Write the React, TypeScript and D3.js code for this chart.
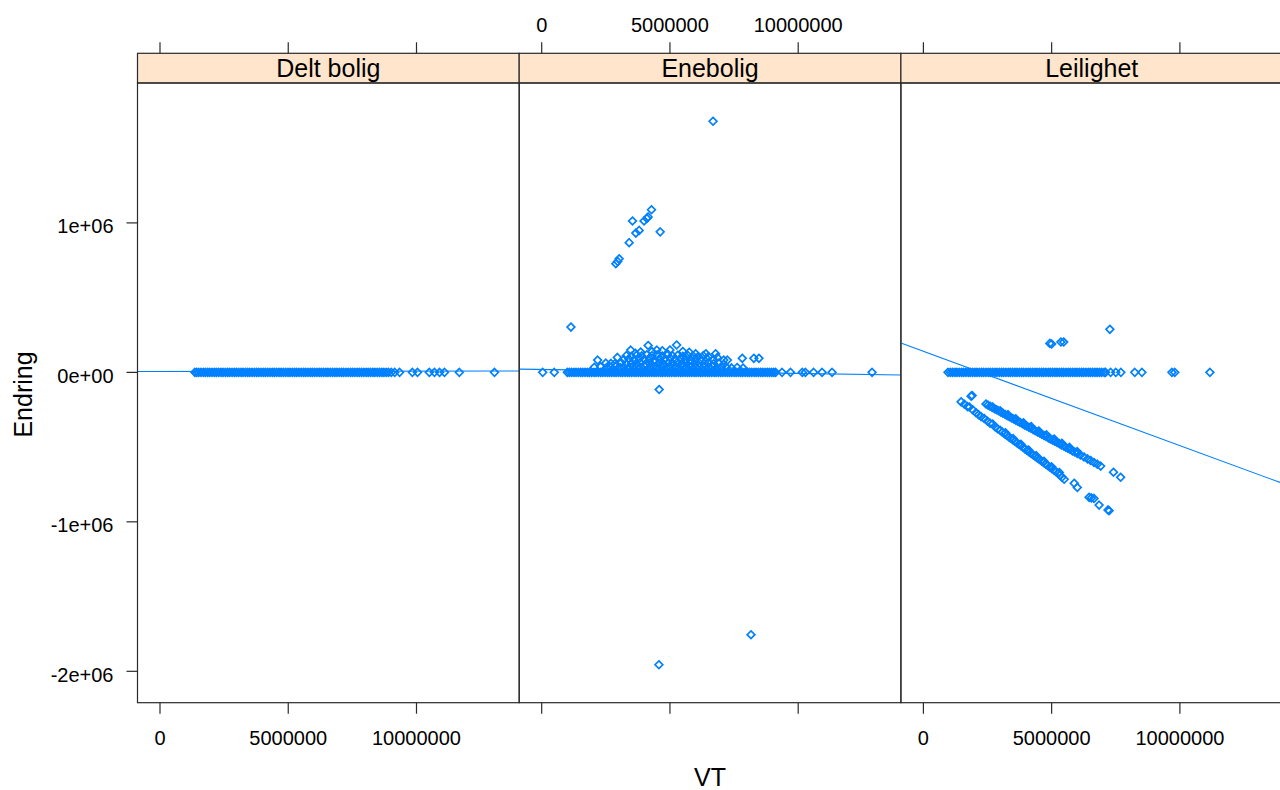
import React from "react";
import * as d3 from "d3";

// ---------- data (VT in millions, Endring in thousands) ----------
const VT_UNIT = 1e6;
const END_UNIT = 1e3;

const panelNames = ["Delt bolig", "Enebolig", "Leilighet"];

const xTicks = [0, 5000000, 10000000];
const xTickLabels = ["0", "5000000", "10000000"];
const yTicks = [1000000, 0, -1000000, -2000000];
const yTickLabels = ["1e+06", "0e+00", "-1e+06", "-2e+06"];

const deltBolig: [number, number][] = [
  [1.36, 0], [1.43, 0], [1.51, 0], [1.6, 0], [1.69, 0], [1.77, 0], [1.86, 0], [1.94, 0], [2.03, 0], [2.12, 0],
  [2.2, 0], [2.29, 0], [2.38, 0], [2.46, 0], [2.55, 0], [2.64, 0], [2.72, 0], [2.81, 0], [2.9, 0], [2.98, 0],
  [3.07, 0], [3.16, 0], [3.24, 0], [3.33, 0], [3.42, 0], [3.5, 0], [3.59, 0], [3.68, 0], [3.77, 0], [3.85, 0],
  [3.94, 0], [4.03, 0], [4.11, 0], [4.2, 0], [4.29, 0], [4.38, 0], [4.46, 0], [4.55, 0], [4.64, 0], [4.72, 0],
  [4.81, 0], [4.9, 0], [4.99, 0], [5.07, 0], [5.16, 0], [5.25, 0], [5.33, 0], [5.42, 0], [5.51, 0], [5.6, 0],
  [5.68, 0], [5.77, 0], [5.86, 0], [5.94, 0], [6.03, 0], [6.12, 0], [6.21, 0], [6.29, 0], [6.38, 0], [6.47, 0],
  [6.55, 0], [6.64, 0], [6.73, 0], [6.82, 0], [6.9, 0], [6.99, 0], [7.08, 0], [7.16, 0], [7.25, 0], [7.34, 0],
  [7.43, 0], [7.51, 0], [7.6, 0], [7.69, 0], [7.77, 0], [7.86, 0], [7.95, 0], [8.04, 0], [8.12, 0], [8.21, 0],
  [8.3, 0], [8.38, 0], [8.47, 0], [8.56, 0], [8.65, 0], [8.73, 0], [8.82, 0], [8.91, 0], [9.02, 0], [9.15, 0],
  [9.34, 0], [9.84, 0], [10.04, 0], [10.5, 0], [10.7, 0], [10.9, 0], [11.09, 0], [11.67, 0], [13.04, 0],
];

const enebolig: [number, number][] = [
  // around zero
  [0.04, 0], [0.49, 0], [1.0, 0], [1.08, 0], [1.17, 0], [1.26, 0], [1.34, 0], [1.43, 0], [1.52, 0], [1.6, 0],
  [1.69, 0], [1.78, 0], [1.86, 0], [1.95, 0], [2.04, 0], [2.12, 0], [2.21, 0], [2.3, 0], [2.38, 0], [2.47, 0],
  [2.56, 0], [2.64, 0], [2.73, 0], [2.82, 0], [2.9, 0], [2.99, 0], [3.08, 0], [3.16, 0], [3.25, 0], [3.34, 0],
  [3.42, 0], [3.51, 0], [3.6, 0], [3.68, 0], [3.77, 0], [3.86, 0], [3.94, 0], [4.03, 0], [4.12, 0], [4.2, 0],
  [4.29, 0], [4.38, 0], [4.46, 0], [4.55, 0], [4.64, 0], [4.72, 0], [4.81, 0], [4.9, 0], [4.98, 0], [5.07, 0],
  [5.16, 0], [5.24, 0], [5.33, 0], [5.42, 0], [5.5, 0], [5.59, 0], [5.68, 0], [5.76, 0], [5.85, 0], [5.94, 0],
  [6.02, 0], [6.11, 0], [6.2, 0], [6.28, 0], [6.37, 0], [6.46, 0], [6.54, 0], [6.63, 0], [6.72, 0], [6.8, 0],
  [6.89, 0], [6.98, 0], [7.06, 0], [7.15, 0], [7.24, 0], [7.32, 0], [7.41, 0], [7.5, 0], [7.58, 0], [7.67, 0],
  [7.76, 0], [7.84, 0], [7.93, 0], [8.02, 0], [8.1, 0], [8.19, 0], [8.28, 0], [8.36, 0], [8.45, 0], [8.54, 0],
  [8.62, 0], [8.71, 0], [8.8, 0], [8.88, 0], [8.97, 0], [9.05, 0], [9.12, 0], [9.37, 0], [9.7, 0], [10.16, 0],
  [10.28, 0], [10.6, 0], [10.93, 0], [11.32, 0], [12.88, 0],
  // small positive changes
  [2.05, 34], [2.3, 38], [2.52, 31], [2.7, 36], [2.88, 40], [3.05, 33], [3.2, 37], [3.38, 31], [3.55, 39], [3.7, 35],
  [3.86, 32], [4.02, 38], [4.2, 34], [4.35, 40], [4.5, 33], [4.68, 36], [4.85, 31], [5.0, 39], [5.18, 35], [5.35, 32],
  [5.5, 38], [5.66, 34], [5.83, 37], [6.0, 31], [6.15, 39], [6.32, 35], [6.5, 33], [6.66, 38], [6.83, 32], [7.0, 36],
  [7.2, 34], [7.4, 30], [7.62, 33], [7.85, 29],
  [2.5, 62], [2.7, 60], [2.85, 58], [3.1, 64], [3.3, 57], [3.5, 63], [3.68, 59], [3.85, 65], [4.05, 58], [4.22, 62],
  [4.4, 66], [4.58, 60], [4.75, 57], [4.93, 64], [5.1, 61], [5.28, 66], [5.45, 58], [5.62, 63], [5.8, 60], [5.98, 56],
  [6.15, 62], [6.33, 59], [6.5, 64], [6.7, 57], [6.9, 61], [7.1, 55],
  [2.18, 82], [2.95, 100], [3.2, 86], [3.4, 90], [3.6, 84], [3.8, 92], [4.0, 87], [4.2, 95], [4.4, 85], [4.6, 91],
  [4.8, 88], [5.0, 96], [5.2, 86], [5.4, 93], [5.6, 89], [5.8, 84], [6.0, 92], [6.2, 87], [6.45, 90], [6.7, 85],
  [7.1, 82], [7.24, 82], [7.82, 94], [8.27, 94], [8.47, 94],
  [3.3, 112], [3.5, 108], [3.7, 115], [3.9, 110], [4.1, 118], [4.3, 112], [4.5, 116], [4.7, 109], [4.9, 117], [5.1, 111],
  [5.3, 114], [5.5, 108], [5.7, 113], [5.9, 110], [6.1, 106], [6.3, 112], [6.5, 105], [6.85, 100],
  [3.47, 149], [3.65, 128], [3.86, 136], [4.15, 180], [4.3, 140], [4.49, 149], [4.7, 145], [4.9, 125], [5.0, 150],
  [5.26, 183], [5.5, 140], [5.75, 135], [6.0, 125], [6.4, 125], [6.78, 125],
  // outliers
  [1.14, 303], [4.58, -115],
  [2.89, 727], [2.96, 742], [3.02, 760], [3.41, 868], [3.54, 1013], [3.67, 932], [3.8, 950], [3.99, 1013],
  [4.1, 1030], [4.15, 1040], [4.28, 1088], [4.62, 940], [6.68, 1680], [4.57, -1956], [8.16, -1755],
];

const leilighet: [number, number][] = [
  // around zero
  [0.96, 0], [1.05, 0], [1.14, 0], [1.23, 0], [1.31, 0], [1.4, 0], [1.49, 0], [1.57, 0], [1.66, 0], [1.75, 0],
  [1.83, 0], [1.92, 0], [2.01, 0], [2.09, 0], [2.18, 0], [2.27, 0], [2.35, 0], [2.44, 0], [2.53, 0], [2.61, 0],
  [2.7, 0], [2.79, 0], [2.87, 0], [2.96, 0], [3.05, 0], [3.13, 0], [3.22, 0], [3.31, 0], [3.39, 0], [3.48, 0],
  [3.57, 0], [3.65, 0], [3.74, 0], [3.83, 0], [3.91, 0], [4.0, 0], [4.09, 0], [4.17, 0], [4.26, 0], [4.35, 0],
  [4.43, 0], [4.52, 0], [4.61, 0], [4.69, 0], [4.78, 0], [4.87, 0], [4.95, 0], [5.04, 0], [5.13, 0], [5.21, 0],
  [5.3, 0], [5.39, 0], [5.47, 0], [5.56, 0], [5.65, 0], [5.73, 0], [5.82, 0], [5.91, 0], [5.99, 0], [6.08, 0],
  [6.17, 0], [6.25, 0], [6.34, 0], [6.43, 0], [6.51, 0], [6.6, 0], [6.69, 0], [6.77, 0], [6.86, 0], [6.95, 0],
  [7.05, 0], [7.1, 0], [7.3, 0], [7.5, 0], [7.7, 0], [8.24, 0], [8.52, 0], [9.69, 0], [9.8, 0], [11.17, 0],
  // positive
  [4.93, 194], [5.0, 190], [5.36, 203], [5.47, 203], [7.27, 288],
  // upper negative band
  [2.44, -212], [2.52, -219], [2.6, -227], [2.68, -234], [2.77, -243], [2.85, -250], [2.93, -257], [3.02, -266],
  [3.1, -273], [3.19, -282], [3.27, -289], [3.35, -296], [3.44, -305], [3.52, -312], [3.6, -320], [3.69, -328],
  [3.77, -335], [3.86, -344], [3.94, -351], [4.02, -359], [4.11, -367], [4.19, -374], [4.28, -383], [4.36, -390],
  [4.45, -399], [4.53, -406], [4.61, -413], [4.7, -422], [4.78, -429], [4.87, -438], [4.95, -445], [5.04, -453],
  [5.12, -461], [5.21, -469], [5.3, -477], [5.38, -485], [5.47, -493], [5.55, -501], [5.64, -509], [5.72, -516],
  [5.81, -525], [5.9, -533], [6.0, -542], [6.12, -553], [6.26, -566], [6.4, -579], [6.52, -590], [6.65, -603],
  [6.78, -615], [6.91, -627], [7.41, -668], [7.69, -702],
  [2.7, -232], [3.0, -258], [3.3, -283], [3.6, -310], [3.9, -337], [4.2, -362], [4.5, -392], [4.8, -418],
  [5.1, -446], [5.4, -474], [5.7, -502], [6.0, -530],
  // lower negative band
  [1.47, -197], [1.6, -213], [1.72, -229], [1.79, -232], [1.86, -159], [1.9, -155], [1.92, -250], [2.05, -270],
  [2.15, -283], [2.25, -296], [2.37, -309], [2.5, -327], [2.6, -340], [2.7, -345], [2.8, -365], [2.9, -378],
  [3.0, -388], [3.08, -400], [3.16, -410], [3.24, -421], [3.32, -431], [3.4, -441], [3.48, -451], [3.56, -461],
  [3.64, -471], [3.72, -481], [3.8, -491], [3.88, -501], [3.96, -512], [4.04, -522], [4.12, -532], [4.2, -542],
  [4.28, -552], [4.36, -562], [4.44, -572], [4.52, -582], [4.6, -592], [4.68, -602], [4.76, -613], [4.84, -623],
  [4.92, -633], [5.0, -643], [5.08, -653], [5.16, -663], [5.24, -675], [5.32, -688], [5.4, -702], [5.49, -715],
  [3.2, -404], [3.5, -443], [3.8, -481], [4.1, -519], [4.4, -557], [4.7, -595], [5.0, -632], [5.3, -670],
  [5.88, -742], [6.0, -770], [6.46, -836], [6.55, -840], [6.65, -843], [6.85, -888], [7.2, -920], [7.24, -926],
];

const panelData = [deltBolig, enebolig, leilighet];

// fitted regression lines (Endring = intercept + slope * VT), intercept in thousands
const regIntercept = [6, 19.7, 141];
const regSlope = [0.0002, -0.00269, -0.0631];

// ---------- layout ----------
const W = 1280;
const H = 790;
const panelLeft = 137.5;
const panelW = 381.7;
const panelTop = 83;
const panelBottom = 702.7;
const stripTop = 53.3;
const blue = "#0080ff";
const stripFill = "#ffe5cc";
const frame = "#2a2a2a";
const font = "'Liberation Sans', Arial, sans-serif";

const xDomain: [number, number] = [-0.877e6, 14.004e6];
const yScale = d3.scaleLinear().domain([-2.21e6, 1.936e6]).range([panelBottom, panelTop]);

const marker = d3.symbol().type(d3.symbolDiamond2).size(38)() as string;

export default function App() {
  const panels = panelNames.map((name, i) => {
    const x0 = panelLeft + i * panelW;
    const xs = d3.scaleLinear().domain(xDomain).range([x0, x0 + panelW]);
    return { name, i, x0, xs };
  });

  return (
    <svg
      width={W}
      height={H}
      style={{ position: "absolute", left: 0, top: 0, background: "#fff" }}
      fontFamily={font}
    >
      <defs>
        {panels.map((p) => (
          <clipPath id={`clip${p.i}`} key={p.i}>
            <rect x={p.x0} y={panelTop} width={panelW} height={panelBottom - panelTop} />
          </clipPath>
        ))}
      </defs>

      {panels.map((p) => {
        const data = panelData[p.i];
        const [d0, d1] = xDomain;
        const lineY0 = regIntercept[p.i] * END_UNIT + regSlope[p.i] * d0;
        const lineY1 = regIntercept[p.i] * END_UNIT + regSlope[p.i] * d1;
        return (
          <g key={p.name}>
            {/* strip */}
            <rect x={p.x0} y={stripTop} width={panelW} height={panelTop - stripTop} fill={stripFill} stroke={frame} strokeWidth={1.2} />
            <text x={p.x0 + panelW / 2} y={stripTop + 23.5} textAnchor="middle" fontSize={25} fill="#000">
              {p.name}
            </text>
            {/* points */}
            <g clipPath={`url(#clip${p.i})`}>
              {data.map((d, k) => (
                <path
                  key={k}
                  d={marker}
                  transform={`translate(${p.xs(d[0] * VT_UNIT)},${yScale(d[1] * END_UNIT)})`}
                  fill="none"
                  stroke={blue}
                  strokeWidth={1.7}
                />
              ))}
              <line
                x1={p.xs(d0)}
                x2={p.xs(d1)}
                y1={yScale(lineY0)}
                y2={yScale(lineY1)}
                stroke={blue}
                strokeWidth={1.1}
              />
            </g>
            {/* panel frame */}
            <rect x={p.x0} y={panelTop} width={panelW} height={panelBottom - panelTop} fill="none" stroke={frame} strokeWidth={1.2} />
            {/* x ticks top & bottom */}
            {xTicks.map((t, k) => (
              <g key={k}>
                <line x1={p.xs(t)} x2={p.xs(t)} y1={stripTop - 11} y2={stripTop} stroke={frame} strokeWidth={1.2} />
                <line x1={p.xs(t)} x2={p.xs(t)} y1={panelBottom} y2={panelBottom + 11} stroke={frame} strokeWidth={1.2} />
                {p.i % 2 === 1 ? (
                  <text x={p.xs(t)} y={31.5} textAnchor="middle" fontSize={20} fill="#000">
                    {xTickLabels[k]}
                  </text>
                ) : (
                  <text x={p.xs(t)} y={745} textAnchor="middle" fontSize={20} fill="#000">
                    {xTickLabels[k]}
                  </text>
                )}
              </g>
            ))}
          </g>
        );
      })}

      {/* y axis */}
      {yTicks.map((t, k) => (
        <g key={k}>
          <line x1={panelLeft - 11} x2={panelLeft} y1={yScale(t)} y2={yScale(t)} stroke={frame} strokeWidth={1.2} />
          <text x={113.5} y={yScale(t) + 10.3} textAnchor="end" fontSize={20} fill="#000">
            {yTickLabels[k]}
          </text>
        </g>
      ))}

      <text x={31.5} y={394.5} transform="rotate(-90,31.5,394.5)" textAnchor="middle" fontSize={25} fill="#000">
        Endring
      </text>
      <text x={710} y={786} textAnchor="middle" fontSize={25} fill="#000">
        VT
      </text>
    </svg>
  );
}
